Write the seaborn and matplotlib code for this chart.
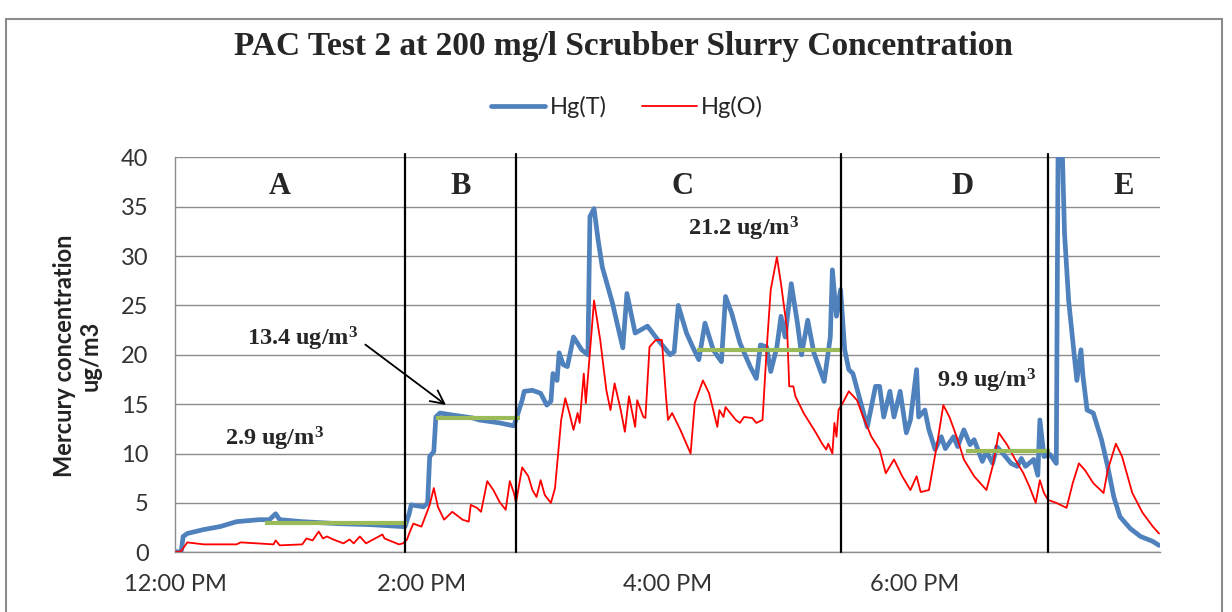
import pandas as pd
import matplotlib
matplotlib.use("Agg")
import matplotlib.pyplot as plt
import matplotlib.dates as mdates
from matplotlib.lines import Line2D
from matplotlib.patches import Rectangle
import seaborn as sns

# time in minutes after 12:00 PM, values in ug/m3
hgt_min = [0, 3, 4, 6, 14, 22, 30, 41, 46, 49, 51, 62, 79, 95, 111, 112, 114, 115, 121, 123,
           124, 126, 127, 129, 135, 145, 148, 158, 165, 167, 169, 170, 174, 178, 181, 183, 184, 186, 187, 189,
           191, 194, 198, 201, 202, 204, 206, 208, 213, 218, 220, 224, 230, 234, 241, 243, 245, 249, 252, 255,
           258, 262, 266, 268, 271, 275, 280, 283, 285, 288, 290, 293, 295, 297, 300, 303, 305, 308, 311, 316,
           319, 320, 322, 324, 326, 328, 330, 333, 337, 341, 343, 345, 348, 350, 353, 356, 358, 361, 362, 365,
           367, 370, 373, 375, 379, 381, 384, 387, 389, 393, 395, 398, 400, 403, 407, 410, 412, 414, 418, 420,
           421, 423, 426, 429, 430, 432, 433, 435, 439, 441, 442, 444, 447, 451, 454, 457, 460, 465, 470, 476,
           479]
hgt_val = [0.1, 0.0, 1.6, 1.9, 2.3, 2.6, 3.1, 3.3, 3.3, 3.9, 3.3, 3.1, 2.9, 2.8, 2.6, 2.6, 3.9, 4.8, 4.6, 5.0,
           9.7, 10.2, 13.7, 14.1, 13.9, 13.6, 13.4, 13.1, 12.8, 14.1, 15.4, 16.3, 16.4, 16.1, 14.9, 15.3, 18.1, 17.4, 20.2, 19.0,
           18.8, 21.8, 20.5, 20.0, 34.0, 34.8, 31.6, 28.9, 25.2, 20.7, 26.2, 22.2, 22.9, 21.8, 20.0, 20.3, 25.0, 22.2, 20.8, 19.5,
           23.2, 20.5, 19.3, 25.9, 24.2, 21.2, 18.8, 17.6, 21.0, 20.8, 18.3, 20.8, 23.9, 21.8, 27.2, 23.2, 20.0, 23.5, 20.2, 17.3,
           21.8, 28.6, 23.9, 26.6, 20.5, 18.5, 18.1, 15.8, 12.7, 16.8, 16.8, 13.7, 16.3, 13.7, 16.3, 12.1, 13.4, 18.5, 13.7, 14.4,
           12.4, 10.4, 11.7, 10.5, 11.7, 10.7, 12.4, 10.9, 11.4, 9.2, 10.2, 9.0, 10.7, 10.0, 9.0, 8.7, 9.5, 8.7, 9.4, 7.8,
           13.4, 9.7, 9.9, 9.0, 46.0, 40.0, 32.3, 25.5, 17.4, 20.5, 17.8, 14.4, 14.1, 11.4, 8.7, 5.6, 3.6, 2.4, 1.6, 1.1,
           0.7]

hgo_min = [0, 3, 6, 14, 30, 32, 48, 49, 51, 62, 64, 67, 70, 72, 74, 77, 82, 85, 87, 90,
           93, 101, 102, 109, 111, 113, 114, 116, 120, 124, 126, 128, 131, 135, 140, 143, 144, 147, 149, 152,
           155, 158, 161, 163, 165, 166, 169, 172, 174, 176, 178, 180, 183, 185, 188, 190, 192, 194, 196, 197,
           199, 200, 204, 207, 210, 212, 214, 217, 219, 221, 224, 225, 228, 229, 231, 234, 237, 239, 240, 242,
           246, 251, 253, 257, 260, 264, 265, 267, 268, 273, 275, 277, 281, 283, 286, 288, 290, 293, 295, 298,
           299, 301, 302, 306, 309, 312, 315, 317, 318, 320, 321, 322, 323, 325, 328, 332, 335, 339, 343, 346,
           350, 354, 358, 361, 363, 367, 371, 374, 377, 381, 384, 389, 395, 398, 401, 405, 409, 413, 416, 419,
           421, 423, 425, 429, 431, 434, 437, 440, 443, 447, 452, 454, 458, 461, 466, 471, 476, 479]
hgo_val = [0.0, 0.1, 1.0, 0.8, 0.8, 1.0, 0.8, 1.2, 0.7, 0.8, 1.4, 1.2, 2.1, 1.4, 1.6, 1.3, 0.9, 1.3, 0.9, 1.6,
           0.9, 1.8, 1.4, 0.8, 0.9, 1.3, 1.9, 2.9, 2.6, 4.8, 6.5, 4.6, 3.3, 4.1, 3.3, 3.1, 4.8, 4.5, 4.1, 7.2,
           6.3, 5.1, 4.3, 7.2, 6.0, 5.0, 8.6, 7.7, 6.3, 5.6, 7.3, 5.8, 5.0, 6.5, 13.4, 15.6, 14.1, 12.4, 14.1, 13.1,
           18.1, 15.1, 25.5, 21.5, 16.4, 14.4, 17.1, 14.4, 12.2, 15.8, 12.7, 15.4, 13.7, 13.6, 20.8, 21.5, 21.5, 15.8, 13.4, 14.1,
           12.4, 10.0, 15.1, 17.4, 16.1, 12.7, 14.4, 13.7, 14.7, 13.4, 13.1, 13.7, 13.6, 13.1, 13.4, 20.5, 26.6, 29.9, 27.2, 22.5,
           16.8, 16.8, 15.8, 14.1, 13.1, 12.1, 11.0, 10.4, 11.0, 10.0, 13.1, 11.7, 14.4, 15.1, 16.3, 15.4, 13.7, 11.7, 10.4, 8.0,
           9.4, 7.7, 6.3, 7.7, 6.1, 6.3, 11.0, 14.9, 13.7, 11.4, 9.4, 7.7, 6.3, 8.7, 12.1, 10.9, 9.4, 8.0, 6.6, 5.0,
           7.3, 6.0, 5.3, 5.0, 4.8, 4.5, 7.0, 9.0, 8.3, 7.0, 6.0, 8.3, 11.0, 9.7, 6.0, 4.0, 2.6, 1.9]

# test phases
phase_names = ["A", "B", "C", "D", "E"]
phase_bounds_min = [112, 166, 324, 425]

# average Hg(T) in each phase
avg_labels = ["2.9 ug/m$^3$", "13.4 ug/m$^3$", "21.2 ug/m$^3$", "9.9 ug/m$^3$"]
avg_start_min = [44, 127, 254, 385]
avg_end_min = [113, 168, 324, 426]
avg_level = [3.0, 13.6, 20.5, 10.3]

base = pd.Timestamp("2000-01-01 12:00")
def to_time(minutes):
    return base + pd.to_timedelta(minutes, unit="m")

hgt = pd.DataFrame({"time": to_time(hgt_min), "conc": hgt_val})
hgo = pd.DataFrame({"time": to_time(hgo_min), "conc": hgo_val})

sns.set_style("white")
plt.rcParams["font.family"] = ["Lato", "DejaVu Sans"]
plt.rcParams["mathtext.fontset"] = "custom"
plt.rcParams["mathtext.rm"] = "Liberation Serif:bold"
plt.rcParams["mathtext.it"] = "Liberation Serif:bold"
plt.rcParams["mathtext.bf"] = "Liberation Serif:bold"

blue = "#4F81BD"
red = "#FF0000"
green = "#9BBB59"
serif = "Liberation Serif"
gray = "#8c8c8c"

f, ax = plt.subplots(figsize=(12.32, 6.12), dpi=100)
f.subplots_adjust(left=0.142, right=0.9416, bottom=0.0976, top=0.743)
f.set_facecolor("white")

# chart-area border
f.patches.append(Rectangle((0.005, -0.05), 0.987, 1.019, transform=f.transFigure,
                           fill=False, edgecolor=gray, linewidth=1.5))

ax.yaxis.grid(True, color=gray, linewidth=1.0)
ax.set_axisbelow(True)

sns.lineplot(data=hgo, x="time", y="conc", color=red, linewidth=1.3, estimator=None, ax=ax, zorder=3)
sns.lineplot(data=hgt, x="time", y="conc", color=blue, linewidth=3.4, estimator=None, ax=ax, zorder=2)

for s, e, lv in zip(avg_start_min, avg_end_min, avg_level):
    ax.plot([to_time(s), to_time(e)], [lv, lv], color=green, linewidth=3.0, solid_capstyle="butt", zorder=4)

for b in phase_bounds_min:
    ax.plot([to_time(b), to_time(b)], [0, 40.3], color="black", linewidth=1.6, clip_on=False, zorder=5)

# phase letters
for name, m in zip(phase_names, [51, 139, 247, 383.5, 462]):
    ax.text(to_time(m), 37.0, name, fontfamily=serif, fontweight="bold", fontsize=22,
            ha="center", va="center")

# average labels
lbl_pos = [(48.7, 11.5), (62, 21.6), (276.6, 32.7), (395, 17.4)]
for txt, (m, y) in zip(avg_labels, lbl_pos):
    ax.text(to_time(m), y, txt, fontfamily=serif, fontweight="bold", fontsize=17.5,
            ha="center", va="center")
ax.annotate("", xy=(to_time(133), 14.75), xytext=(to_time(91.6), 21.2),
            arrowprops=dict(arrowstyle="->", color="black", lw=1.3, mutation_scale=24))

ax.set_xlim(to_time(0), to_time(479.5))
ax.set_ylim(0, 40)
ax.set_yticks(range(0, 41, 5))
ax.xaxis.set_major_locator(mdates.HourLocator(byhour=[12, 14, 16, 18]))
ax.xaxis.set_major_formatter(mdates.DateFormatter("%-I:%M %p"))
ax.tick_params(axis="both", labelsize=17, colors="#333333", width=1.0)
ax.tick_params(axis="y", length=7, color=gray, pad=12)
ax.tick_params(axis="x", length=6, color=gray, pad=10)
ax.set_xlabel("")
ax.set_ylabel("")
for side in ["top", "right"]:
    ax.spines[side].set_visible(False)
for side in ["left", "bottom"]:
    ax.spines[side].set_color(gray)
    ax.spines[side].set_linewidth(1.0)

f.text(0.063, 0.418, "Mercury concentration\nug/m3", rotation=90, ha="center", va="center",
       multialignment="center", fontsize=17, fontweight="bold", color="#222222", linespacing=1.15)

f.text(0.506, 1 - 46 / 612, "PAC Test 2 at 200 mg/l Scrubber Slurry Concentration",
       fontfamily=serif, fontweight="bold", fontsize=24, ha="center", va="center")

handles = [Line2D([], [], color=blue, linewidth=3.4), Line2D([], [], color=red, linewidth=1.3)]
f.legend(handles, ["Hg(T)", "Hg(O)"], loc="center", bbox_to_anchor=(0.509, 1 - 107 / 612),
         ncol=2, frameon=False, fontsize=17, handlelength=2.3, columnspacing=1.5, handletextpad=0.2)

plt.savefig("out.png", dpi=100)
